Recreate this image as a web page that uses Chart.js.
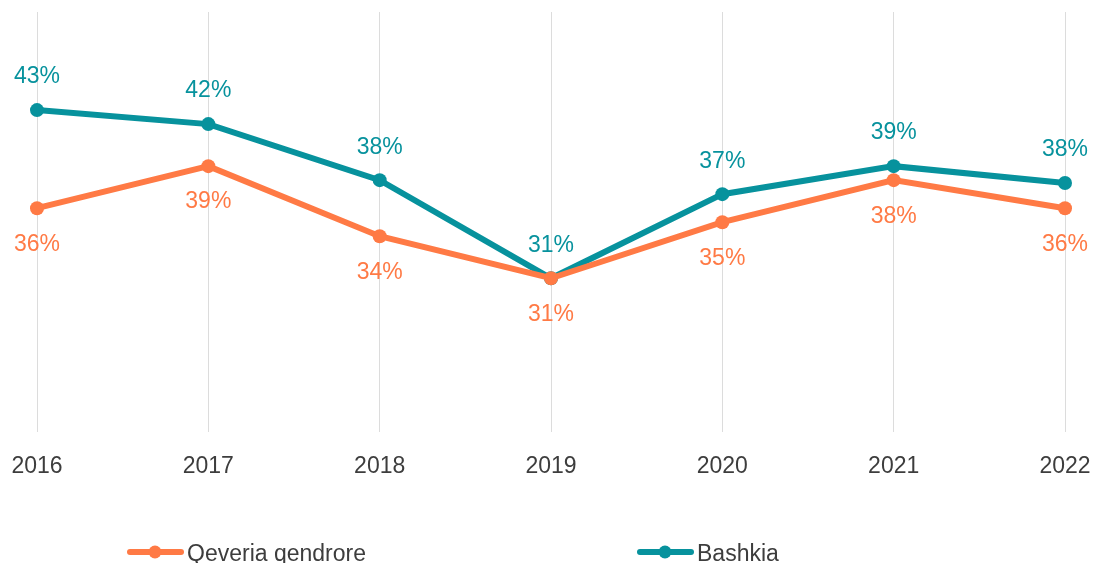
<!DOCTYPE html>
<html>
<head>
<meta charset="utf-8">
<script src="https://cdn.jsdelivr.net/npm/chart.js@4"></script>
<style>
  html, body { margin: 0; padding: 0; background: #fff; }
  #wrap { position: relative; width: 1094px; height: 563px; overflow: hidden; }
</style>
</head>
<body>
<div id="wrap"><canvas id="chart" width="1094" height="563"></canvas></div>
<script>
// Te dhenat
var vitet = ['2016', '2017', '2018', '2019', '2020', '2021', '2022'];
var qeveriaQendrore = [36, 39, 34, 31, 35, 38, 36];
var bashkia = [43, 42, 38, 31, 37, 39, 37.8];

var ngjyraPortokalli = '#ff7a45';
var ngjyraBlu = '#07929d';
var fontFamily = "'Liberation Sans', Arial, sans-serif";

// Etiketat mbi/nen pikat
var etiketaPlugin = {
    id: 'etiketa',
    afterDatasetsDraw: function (chart) {
        var ctx = chart.ctx;
        ctx.save();
        ctx.font = '23px ' + fontFamily;
        ctx.textAlign = 'center';
        ctx.textBaseline = 'middle';
        chart.data.datasets.forEach(function (ds, i) {
            var meta = chart.getDatasetMeta(i);
            var offset = i === 1 ? -33 : 36;
            ctx.fillStyle = ds.borderColor;
            meta.data.forEach(function (pt, j) {
                ctx.fillText(Math.round(ds.data[j]) + '%', pt.x, pt.y + offset);
            });
        });
        ctx.restore();
    }
};

// Legjenda ne fund
var legjendaPlugin = {
    id: 'legjenda',
    afterDraw: function (chart) {
        var ctx = chart.ctx;
        var y = 552;
        var items = [
            { x: 127, ds: chart.data.datasets[0] },
            { x: 637, ds: chart.data.datasets[1] }
        ];
        ctx.save();
        items.forEach(function (it) {
            ctx.strokeStyle = it.ds.borderColor;
            ctx.fillStyle = it.ds.borderColor;
            ctx.lineWidth = 6;
            ctx.lineCap = 'round';
            ctx.beginPath();
            ctx.moveTo(it.x + 3, y);
            ctx.lineTo(it.x + 54, y);
            ctx.stroke();
            ctx.beginPath();
            ctx.arc(it.x + 28, y, 6.5, 0, Math.PI * 2);
            ctx.fill();
            ctx.fillStyle = '#3d3d3d';
            ctx.font = '23px ' + fontFamily;
            ctx.textAlign = 'left';
            ctx.textBaseline = 'middle';
            ctx.fillText(it.ds.label, it.x + 60, y + 3);
        });
        ctx.restore();
    }
};

new Chart(document.getElementById('chart'), {
    type: 'line',
    data: {
        labels: vitet,
        datasets: [
            {
                label: 'Qeveria qendrore',
                data: qeveriaQendrore,
                borderColor: ngjyraPortokalli,
                backgroundColor: ngjyraPortokalli,
                borderWidth: 6,
                pointRadius: 7,
                pointHoverRadius: 7,
                pointBorderWidth: 0,
                tension: 0
            },
            {
                label: 'Bashkia',
                data: bashkia,
                borderColor: ngjyraBlu,
                backgroundColor: ngjyraBlu,
                borderWidth: 6,
                pointRadius: 7,
                pointHoverRadius: 7,
                pointBorderWidth: 0,
                tension: 0
            }
        ]
    },
    options: {
        responsive: false,
        animation: false,
        layout: {
            padding: { left: 37, right: 29, top: 12, bottom: 63 }
        },
        plugins: {
            legend: { display: false },
            tooltip: { enabled: false }
        },
        scales: {
            y: {
                display: false,
                min: 20,
                max: 50
            },
            x: {
                offset: false,
                border: { display: false },
                afterFit: function (scale) {
                    scale.paddingLeft = 0;
                    scale.paddingRight = 0;
                },
                grid: {
                    color: '#dcdcdc',
                    lineWidth: 1,
                    drawTicks: false
                },
                ticks: {
                    color: '#3d3d3d',
                    padding: 20,
                    font: { size: 23, family: fontFamily }
                }
            }
        }
    },
    plugins: [etiketaPlugin, legjendaPlugin]
});
</script>
</body>
</html>
